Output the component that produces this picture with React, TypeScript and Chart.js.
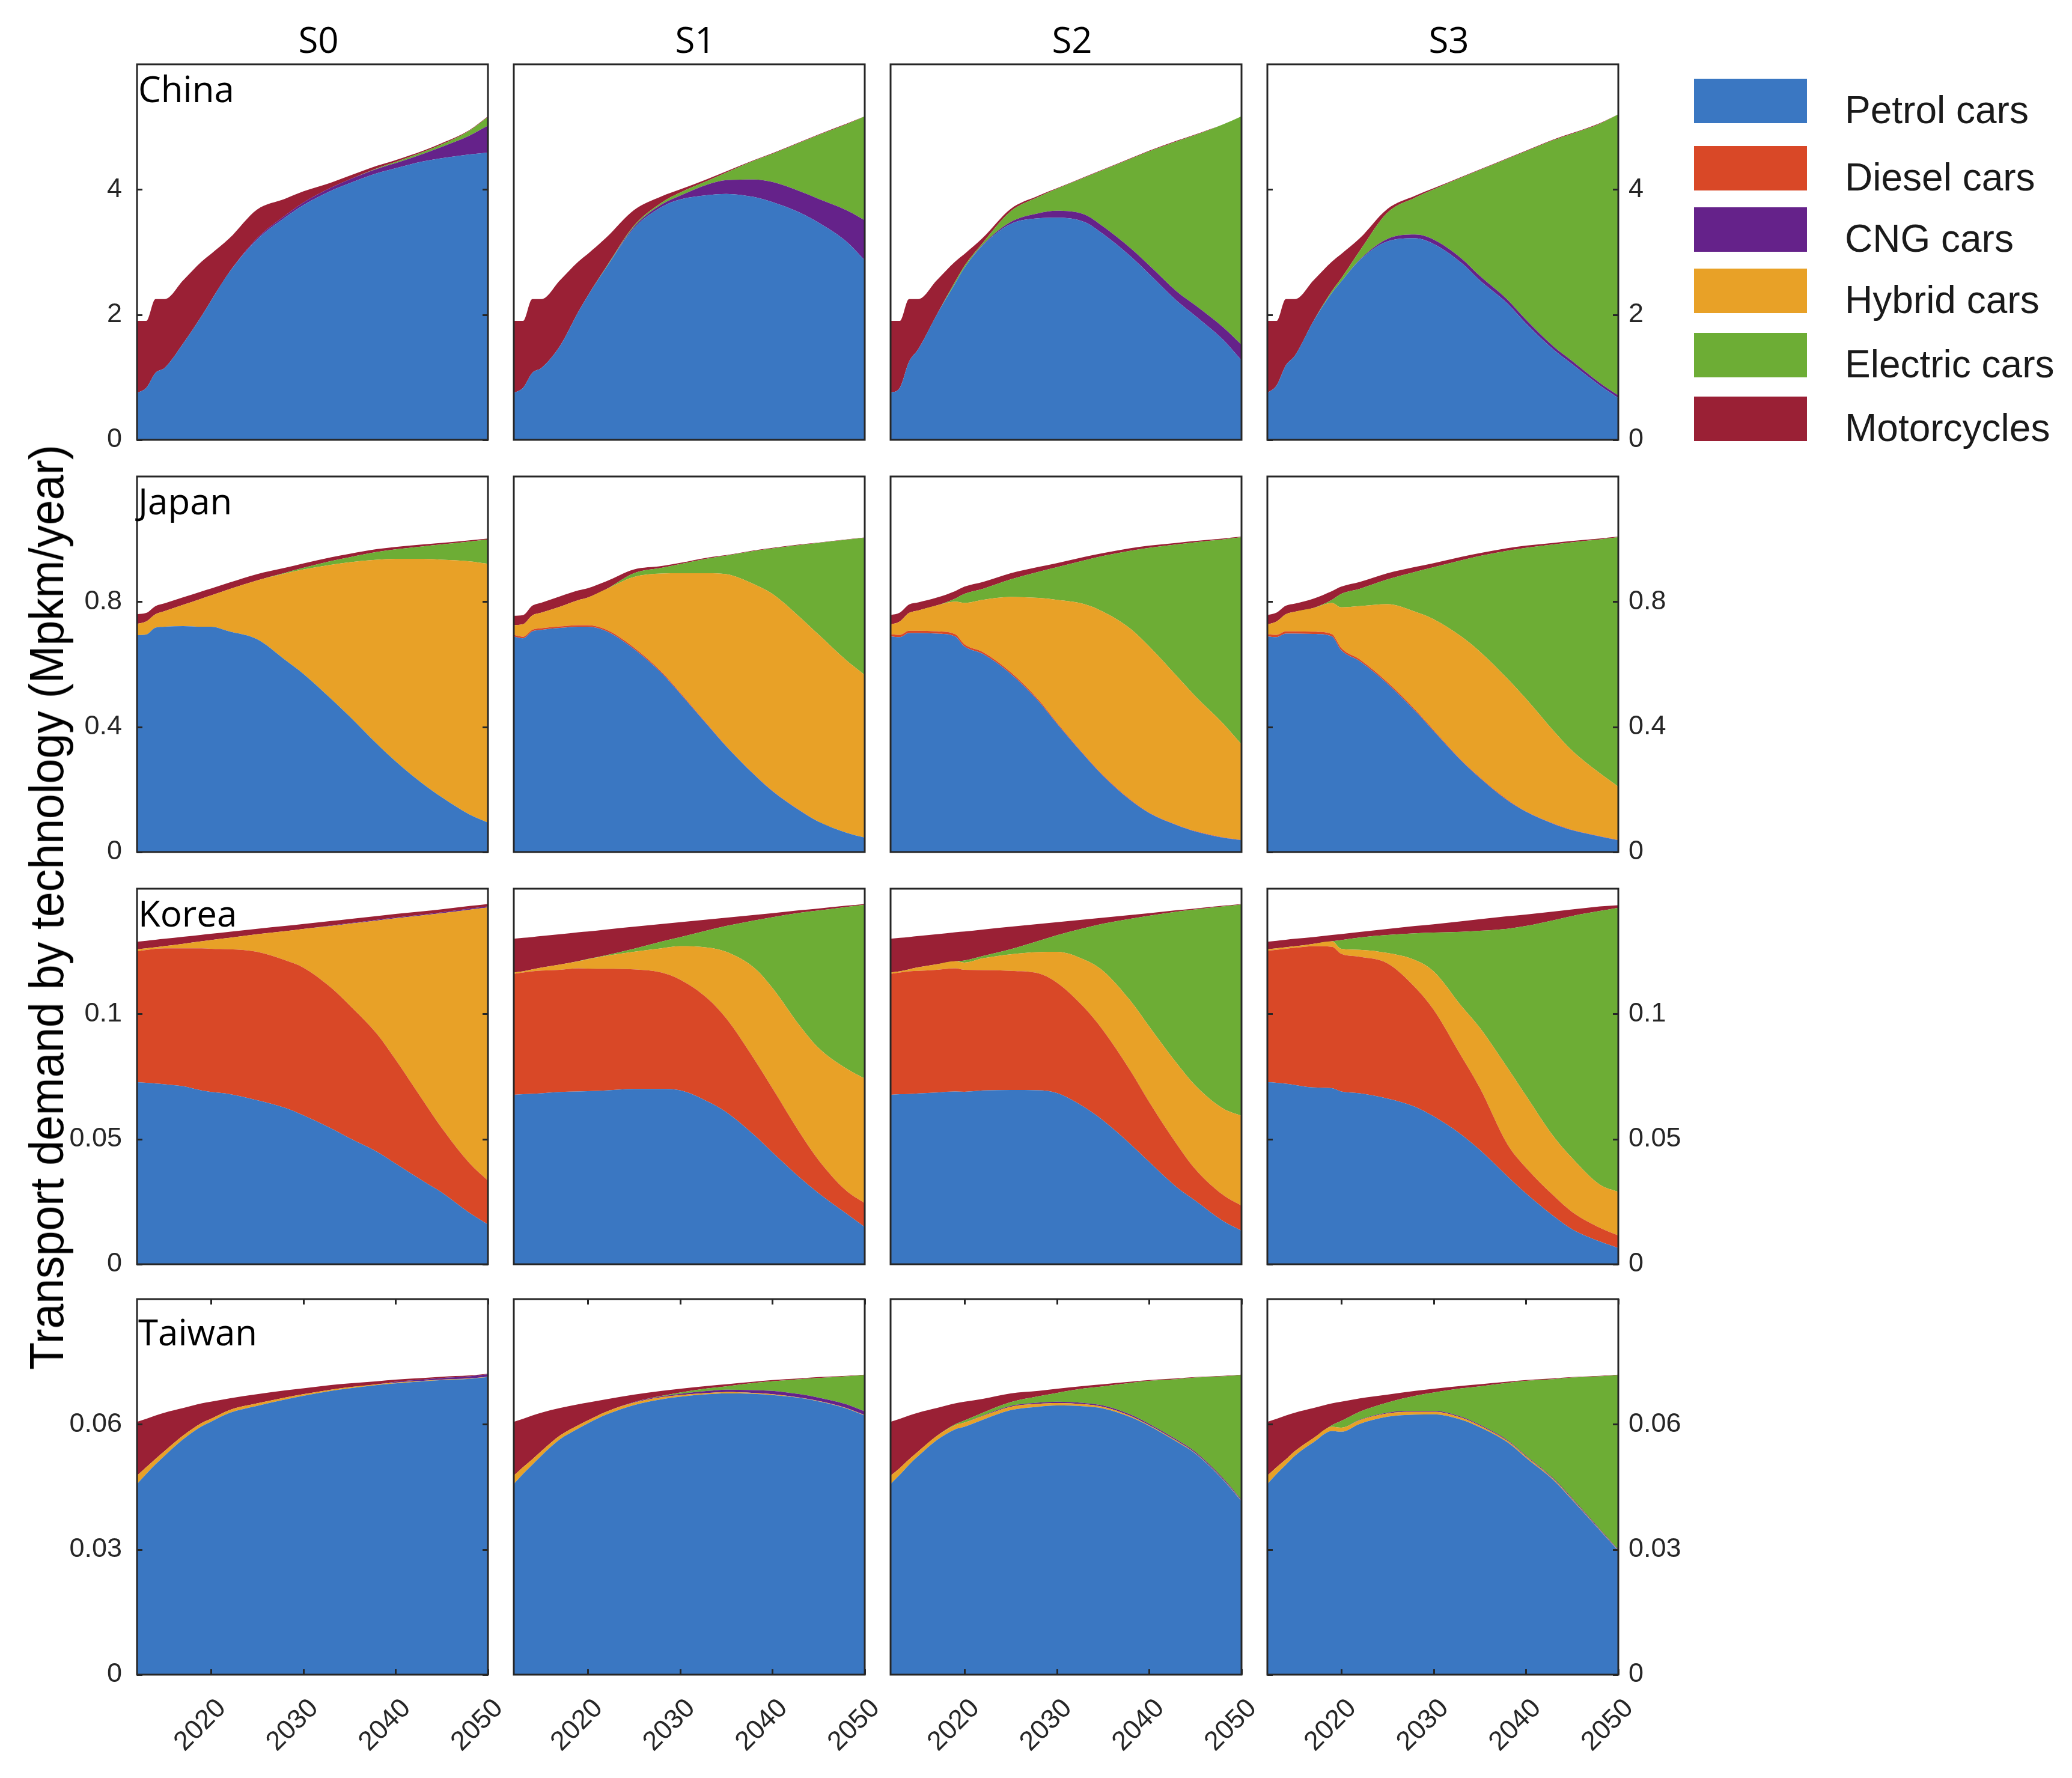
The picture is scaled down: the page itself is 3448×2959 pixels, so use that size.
import React, { useEffect, useRef } from 'react';
import { Chart, registerables } from 'chart.js';

Chart.register(...registerables);

// ---------------- data ----------------
const YEARS = [2012, 2013, 2014, 2015, 2017, 2019, 2020, 2022, 2025, 2028, 2030, 2033, 2035, 2038, 2040, 2043, 2045, 2048, 2050];
const SCENARIOS = ['S0', 'S1', 'S2', 'S3'];
const COUNTRIES = ['China', 'Japan', 'Korea', 'Taiwan'];
const TECH_LABELS = ['Petrol cars', 'Diesel cars', 'CNG cars', 'Hybrid cars', 'Electric cars', 'Motorcycles'];
const TECH_COLORS = ['#3a77c2', '#d94827', '#65228a', '#e8a127', '#6dad35', '#9a2035'];
// bottom-to-top stacking order (indices into TECH_LABELS)
const STACK_ORDER = [0, 1, 3, 2, 4, 5];
const Y_MAX = [6, 1.2, 0.15, 0.09];
const Y_TICKS = [[0, 2, 4], [0, 0.4, 0.8], [0, 0.05, 0.1], [0, 0.03, 0.06]];
const X_TICKS = [2020, 2030, 2040, 2050];
const Y_LABEL = 'Transport demand by technology (Mpkm/year)';

const NONE = [0, 0, 0, 0, 0, 0, 0, 0, 0, 0, 0, 0, 0, 0, 0, 0, 0, 0, 0];

// China (Mpkm/year), one row per scenario S0..S3
const CHINA_PETROL = [
  [0.75, 0.83, 1.07, 1.15, 1.54, 1.98, 2.22, 2.68, 3.2, 3.55, 3.75, 3.98, 4.1, 4.26, 4.34, 4.45, 4.5, 4.56, 4.59],
  [0.75, 0.83, 1.07, 1.15, 1.5, 2.05, 2.3, 2.75, 3.38, 3.72, 3.84, 3.91, 3.93, 3.88, 3.8, 3.63, 3.47, 3.17, 2.87],
  [0.75, 0.83, 1.25, 1.45, 2.0, 2.5, 2.75, 3.11, 3.45, 3.54, 3.55, 3.48, 3.29, 2.93, 2.65, 2.22, 1.98, 1.6, 1.27],
  [0.75, 0.87, 1.19, 1.35, 1.9, 2.35, 2.53, 2.87, 3.17, 3.22, 3.13, 2.83, 2.55, 2.18, 1.86, 1.44, 1.21, 0.87, 0.67],
];
const CHINA_DIESEL = [NONE, NONE, NONE, NONE];
const CHINA_CNG = [
  [0, 0, 0, 0, 0, 0, 0, 0, 0.02, 0.03, 0.04, 0.05, 0.06, 0.07, 0.08, 0.12, 0.18, 0.3, 0.43],
  [0, 0, 0, 0, 0, 0, 0, 0, 0.02, 0.04, 0.06, 0.17, 0.22, 0.28, 0.32, 0.34, 0.38, 0.5, 0.64],
  [0, 0, 0, 0, 0, 0, 0, 0.01, 0.03, 0.08, 0.11, 0.12, 0.12, 0.13, 0.14, 0.15, 0.17, 0.2, 0.25],
  [0, 0, 0, 0, 0, 0, 0, 0.01, 0.04, 0.06, 0.07, 0.07, 0.07, 0.06, 0.06, 0.05, 0.05, 0.04, 0.04],
];
const CHINA_HYBRID = [NONE, NONE, NONE, NONE];
const CHINA_ELECTRIC = [
  [0, 0, 0, 0, 0, 0, 0, 0, 0, 0, 0, 0, 0, 0.01, 0.02, 0.03, 0.04, 0.08, 0.14],
  [0, 0, 0, 0, 0, 0, 0, 0.01, 0.02, 0.03, 0.05, 0.06, 0.12, 0.3, 0.45, 0.78, 1.02, 1.37, 1.66],
  [0, 0, 0, 0, 0, 0.03, 0.03, 0.03, 0.17, 0.26, 0.35, 0.59, 0.9, 1.43, 1.82, 2.4, 2.72, 3.24, 3.65],
  [0, 0, 0, 0, 0, 0.03, 0.05, 0.14, 0.42, 0.59, 0.8, 1.29, 1.69, 2.25, 2.69, 3.3, 3.63, 4.14, 4.49],
];
const CHINA_MOTO = [
  [1.15, 1.07, 1.18, 1.1, 1.01, 0.87, 0.75, 0.54, 0.46, 0.27, 0.18, 0.08, 0.06, 0.04, 0.03, 0.02, 0.02, 0.01, 0.01],
  [1.15, 1.07, 1.18, 1.1, 1.05, 0.8, 0.67, 0.47, 0.25, 0.1, 0.05, 0.03, 0.02, 0.01, 0.01, 0.01, 0.01, 0.01, 0],
  [1.15, 1.07, 1.0, 0.8, 0.55, 0.32, 0.19, 0.08, 0.04, 0.02, 0.01, 0.01, 0.01, 0.01, 0.01, 0.01, 0.01, 0, 0],
  [1.15, 1.03, 1.06, 0.9, 0.65, 0.47, 0.39, 0.2, 0.06, 0.03, 0.02, 0.01, 0.01, 0.01, 0.01, 0.01, 0.01, 0.01, 0],
];

// Japan
const JAPAN_PETROL = [
  [0.693, 0.695, 0.717, 0.72, 0.722, 0.72, 0.72, 0.705, 0.68, 0.615, 0.57, 0.49, 0.434, 0.345, 0.29, 0.217, 0.175, 0.12, 0.094],
  [0.689, 0.683, 0.705, 0.71, 0.716, 0.72, 0.72, 0.706, 0.649, 0.572, 0.507, 0.405, 0.338, 0.248, 0.195, 0.132, 0.097, 0.062, 0.046],
  [0.689, 0.687, 0.7, 0.7, 0.698, 0.689, 0.657, 0.633, 0.57, 0.483, 0.411, 0.308, 0.244, 0.165, 0.125, 0.086, 0.066, 0.046, 0.038],
  [0.689, 0.687, 0.698, 0.698, 0.697, 0.689, 0.645, 0.61, 0.538, 0.451, 0.387, 0.292, 0.237, 0.165, 0.129, 0.09, 0.07, 0.05, 0.038],
];
const JAPAN_DIESEL = [
  NONE,
  [0.005, 0.005, 0.005, 0.005, 0.005, 0.005, 0.005, 0.005, 0.005, 0.004, 0.003, 0.002, 0.001, 0.001, 0.001, 0.001, 0, 0, 0],
  [0.007, 0.007, 0.007, 0.007, 0.007, 0.007, 0.007, 0.006, 0.005, 0.004, 0.003, 0.002, 0.002, 0.002, 0.001, 0.001, 0.001, 0.001, 0.001],
  [0.007, 0.007, 0.007, 0.007, 0.007, 0.007, 0.007, 0.006, 0.005, 0.004, 0.003, 0.002, 0.002, 0.002, 0.001, 0.001, 0.001, 0.001, 0.001],
];
const JAPAN_CNG = [NONE, NONE, NONE, NONE];
const JAPAN_HYBRID = [
  [0.036, 0.042, 0.043, 0.05, 0.068, 0.09, 0.1, 0.135, 0.188, 0.275, 0.333, 0.428, 0.492, 0.589, 0.647, 0.72, 0.759, 0.809, 0.827],
  [0.031, 0.04, 0.046, 0.05, 0.063, 0.08, 0.088, 0.129, 0.225, 0.314, 0.381, 0.484, 0.549, 0.607, 0.629, 0.617, 0.598, 0.551, 0.52],
  [0.031, 0.043, 0.057, 0.065, 0.083, 0.104, 0.132, 0.167, 0.24, 0.325, 0.392, 0.482, 0.522, 0.546, 0.531, 0.475, 0.431, 0.364, 0.305],
  [0.031, 0.043, 0.055, 0.063, 0.076, 0.1, 0.13, 0.17, 0.249, 0.313, 0.354, 0.395, 0.402, 0.387, 0.36, 0.296, 0.253, 0.201, 0.17],
];
const JAPAN_ELECTRIC = [
  [0, 0, 0, 0, 0, 0, 0, 0, 0, 0.002, 0.005, 0.012, 0.016, 0.025, 0.03, 0.04, 0.049, 0.063, 0.078],
  [0, 0, 0, 0, 0, 0, 0, 0, 0.012, 0.018, 0.029, 0.047, 0.059, 0.106, 0.145, 0.231, 0.293, 0.385, 0.438],
  [0, 0, 0, 0, 0, 0.01, 0.029, 0.035, 0.056, 0.083, 0.104, 0.14, 0.178, 0.25, 0.315, 0.421, 0.492, 0.588, 0.662],
  [0, 0, 0, 0, 0, 0.01, 0.043, 0.055, 0.079, 0.127, 0.166, 0.243, 0.305, 0.409, 0.482, 0.596, 0.666, 0.747, 0.797],
];
const JAPAN_MOTO = [
  [0.031, 0.027, 0.026, 0.025, 0.024, 0.023, 0.022, 0.021, 0.02, 0.016, 0.014, 0.012, 0.011, 0.009, 0.008, 0.006, 0.005, 0.004, 0.003],
  [0.03, 0.029, 0.031, 0.032, 0.033, 0.031, 0.03, 0.025, 0.012, 0.006, 0.004, 0.003, 0.002, 0.002, 0.002, 0.002, 0.001, 0.001, 0.001],
  [0.03, 0.028, 0.027, 0.026, 0.025, 0.024, 0.023, 0.022, 0.02, 0.016, 0.013, 0.011, 0.009, 0.008, 0.007, 0.005, 0.004, 0.003, 0.002],
  [0.03, 0.028, 0.027, 0.026, 0.03, 0.028, 0.023, 0.022, 0.02, 0.016, 0.013, 0.011, 0.009, 0.008, 0.007, 0.005, 0.004, 0.003, 0.002],
];

// Korea
const KOREA_PETROL = [
  [0.0727, 0.0725, 0.0722, 0.0719, 0.0711, 0.0694, 0.0688, 0.068, 0.0655, 0.0625, 0.0595, 0.0543, 0.0504, 0.0449, 0.0402, 0.0332, 0.0287, 0.0205, 0.0159],
  [0.0677, 0.0679, 0.0681, 0.0683, 0.0688, 0.069, 0.0691, 0.0694, 0.07, 0.07, 0.0695, 0.065, 0.0608, 0.0517, 0.0447, 0.0345, 0.0284, 0.0203, 0.0149],
  [0.0677, 0.0679, 0.068, 0.0682, 0.0686, 0.069, 0.0689, 0.0694, 0.0696, 0.0695, 0.0684, 0.0627, 0.0575, 0.0479, 0.0409, 0.0307, 0.0254, 0.0173, 0.0134],
  [0.0727, 0.0725, 0.0721, 0.0716, 0.0706, 0.0703, 0.069, 0.0683, 0.0662, 0.0629, 0.0591, 0.0518, 0.0457, 0.0351, 0.0283, 0.0192, 0.014, 0.0091, 0.0065],
];
const KOREA_DIESEL = [
  [0.0523, 0.053, 0.0538, 0.0543, 0.0551, 0.0568, 0.0572, 0.0578, 0.0593, 0.059, 0.059, 0.0562, 0.0531, 0.047, 0.0415, 0.032, 0.0257, 0.0199, 0.0175],
  [0.0483, 0.0486, 0.0489, 0.049, 0.0488, 0.0492, 0.049, 0.0486, 0.0478, 0.0465, 0.0442, 0.0411, 0.0374, 0.0304, 0.0256, 0.0178, 0.0132, 0.0091, 0.0095],
  [0.0483, 0.0486, 0.049, 0.049, 0.049, 0.0492, 0.0487, 0.0481, 0.0476, 0.0467, 0.0441, 0.0397, 0.036, 0.0292, 0.0239, 0.0172, 0.0126, 0.0104, 0.01],
  [0.0525, 0.0531, 0.0539, 0.0548, 0.0564, 0.0565, 0.055, 0.0545, 0.054, 0.0477, 0.0426, 0.0313, 0.0248, 0.0128, 0.0103, 0.0082, 0.0069, 0.0055, 0.005],
];
const KOREA_CNG = [
  [0, 0, 0, 0, 0, 0, 0, 0, 0, 0, 0, 0.0002, 0.0002, 0.0003, 0.0003, 0.0003, 0.0004, 0.0004, 0.0004],
  NONE,
  NONE,
  NONE,
];
const KOREA_HYBRID = [
  [0.0008, 0.0007, 0.0006, 0.0009, 0.0018, 0.0028, 0.0035, 0.0046, 0.007, 0.0115, 0.0154, 0.0246, 0.0325, 0.0454, 0.0565, 0.0742, 0.0858, 0.1012, 0.1091],
  [0.0005, 0.0005, 0.0008, 0.0012, 0.0021, 0.0028, 0.0037, 0.0052, 0.007, 0.0097, 0.0133, 0.0204, 0.0266, 0.0364, 0.0401, 0.0428, 0.0448, 0.0488, 0.0498],
  [0.0005, 0.0005, 0.0008, 0.0014, 0.0022, 0.0028, 0.0029, 0.0047, 0.0066, 0.0085, 0.0123, 0.0192, 0.0237, 0.028, 0.0302, 0.0323, 0.0334, 0.0345, 0.0359],
  [0.0006, 0.0006, 0.0006, 0.0006, 0.001, 0.0022, 0.002, 0.0028, 0.0041, 0.0109, 0.0153, 0.0201, 0.024, 0.0306, 0.0288, 0.0236, 0.0215, 0.0172, 0.0174],
];
const KOREA_ELECTRIC = [
  NONE,
  [0, 0, 0, 0, 0, 0.0001, 0.0001, 0.0002, 0.0012, 0.0027, 0.0036, 0.0069, 0.0103, 0.0188, 0.0282, 0.0453, 0.0549, 0.0645, 0.0694],
  [0, 0, 0, 0, 0, 0, 0.0008, 0.0009, 0.002, 0.0044, 0.0066, 0.0127, 0.0188, 0.0329, 0.0442, 0.0606, 0.0703, 0.0807, 0.0844],
  [0, 0, 0, 0, 0, 0, 0.0035, 0.0049, 0.0072, 0.0107, 0.0155, 0.0296, 0.0387, 0.0555, 0.0677, 0.0864, 0.0967, 0.1093, 0.1135],
];
const KOREA_MOTO = [
  [0.003, 0.003, 0.003, 0.0029, 0.0028, 0.0026, 0.0025, 0.0024, 0.0022, 0.0021, 0.002, 0.0018, 0.0017, 0.0015, 0.0014, 0.0013, 0.0012, 0.0011, 0.001],
  [0.0135, 0.0134, 0.0129, 0.0126, 0.0121, 0.0115, 0.011, 0.0103, 0.0088, 0.007, 0.006, 0.0043, 0.0033, 0.0022, 0.0016, 0.001, 0.0008, 0.0005, 0.0003],
  [0.0135, 0.0134, 0.0129, 0.0125, 0.012, 0.0116, 0.0116, 0.0106, 0.009, 0.0068, 0.0052, 0.0034, 0.0024, 0.0015, 0.001, 0.0006, 0.0004, 0.0003, 0.0002],
  [0.003, 0.003, 0.003, 0.003, 0.0027, 0.0025, 0.0024, 0.0022, 0.0024, 0.0029, 0.0033, 0.0042, 0.0046, 0.005, 0.0046, 0.0035, 0.0026, 0.0018, 0.001],
];

// Taiwan
const TAIWAN_PETROL = [
  [0.0457, 0.0481, 0.0504, 0.0525, 0.0564, 0.0595, 0.0606, 0.0627, 0.0644, 0.0659, 0.0668, 0.068, 0.0686, 0.0694, 0.0698, 0.0703, 0.0706, 0.0709, 0.0713],
  [0.0457, 0.0481, 0.0503, 0.0525, 0.0564, 0.059, 0.0602, 0.0623, 0.0646, 0.066, 0.0666, 0.0672, 0.0674, 0.0673, 0.067, 0.0663, 0.0655, 0.0638, 0.0621],
  [0.0457, 0.0479, 0.0503, 0.0524, 0.0562, 0.0588, 0.0594, 0.0611, 0.0634, 0.0642, 0.0645, 0.0643, 0.0638, 0.0617, 0.0596, 0.0558, 0.053, 0.0467, 0.0416],
  [0.0457, 0.0481, 0.0503, 0.0525, 0.0557, 0.0584, 0.0582, 0.0601, 0.0618, 0.0623, 0.0624, 0.0611, 0.0593, 0.0557, 0.052, 0.0466, 0.0419, 0.0346, 0.0297],
];
const TAIWAN_DIESEL = [NONE, NONE, NONE, NONE];
const TAIWAN_CNG = [
  [0, 0, 0, 0, 0, 0, 0, 0, 0, 0, 0, 0, 0, 0, 0.0002, 0.0003, 0.0004, 0.0005, 0.0006],
  [0, 0, 0, 0, 0, 0, 0, 0, 0.0001, 0.0002, 0.0003, 0.0005, 0.0006, 0.0007, 0.0008, 0.0008, 0.0008, 0.0009, 0.0009],
  [0, 0, 0, 0, 0, 0, 0, 0.0001, 0.0002, 0.0003, 0.0003, 0.0003, 0.0003, 0.0003, 0.0003, 0.0003, 0.0003, 0.0003, 0.0002],
  [0, 0, 0, 0, 0, 0, 0, 0.0001, 0.0002, 0.0002, 0.0002, 0.0002, 0.0002, 0.0002, 0.0002, 0.0002, 0.0002, 0.0002, 0.0002],
];
const TAIWAN_HYBRID = [
  [0.002, 0.0016, 0.0013, 0.0011, 0.0009, 0.0008, 0.0007, 0.0007, 0.0006, 0.0005, 0.0004, 0.0003, 0.0003, 0.0002, 0.0002, 0.0001, 0.0001, 0.0001, 0.0001],
  [0.002, 0.0016, 0.0013, 0.0011, 0.0009, 0.0008, 0.0007, 0.0007, 0.0006, 0.0005, 0.0004, 0.0003, 0.0003, 0.0002, 0.0002, 0.0001, 0.0001, 0.0001, 0.0001],
  [0.002, 0.0016, 0.0013, 0.0011, 0.001, 0.001, 0.001, 0.0009, 0.0008, 0.0007, 0.0006, 0.0005, 0.0004, 0.0003, 0.0002, 0.0002, 0.0001, 0.0001, 0.0001],
  [0.002, 0.0016, 0.0013, 0.0011, 0.001, 0.001, 0.001, 0.0009, 0.0008, 0.0007, 0.0006, 0.0005, 0.0004, 0.0003, 0.0003, 0.0002, 0.0002, 0.0001, 0.0001],
];
const TAIWAN_ELECTRIC = [
  NONE,
  [0, 0, 0, 0, 0, 0, 0, 0, 0, 0.0001, 0.0003, 0.0006, 0.0008, 0.0017, 0.0023, 0.0036, 0.0047, 0.0067, 0.0087],
  [0, 0, 0, 0, 0, 0.0002, 0.0005, 0.0007, 0.0009, 0.0015, 0.0021, 0.0035, 0.0046, 0.0076, 0.0103, 0.0145, 0.0178, 0.0244, 0.0299],
  [0, 0, 0, 0, 0, 0.0004, 0.0016, 0.0019, 0.0024, 0.0036, 0.0044, 0.0068, 0.0092, 0.0137, 0.0179, 0.0238, 0.0289, 0.0366, 0.0418],
];
const TAIWAN_MOTO = [
  [0.0129, 0.0116, 0.0104, 0.0092, 0.0066, 0.0047, 0.0041, 0.0028, 0.0022, 0.0017, 0.0014, 0.0011, 0.0009, 0.0007, 0.0005, 0.0004, 0.0003, 0.0002, 0.0001],
  [0.0129, 0.0116, 0.0105, 0.0092, 0.0066, 0.005, 0.0043, 0.003, 0.0018, 0.0012, 0.0009, 0.0006, 0.0005, 0.0003, 0.0003, 0.0002, 0.0002, 0.0001, 0.0001],
  [0.0129, 0.0118, 0.0105, 0.0093, 0.0067, 0.005, 0.0045, 0.0033, 0.0021, 0.0013, 0.001, 0.0006, 0.0005, 0.0003, 0.0002, 0.0002, 0.0001, 0.0001, 0.0001],
  [0.0129, 0.0116, 0.0105, 0.0092, 0.0072, 0.0052, 0.0046, 0.0032, 0.0019, 0.0012, 0.0009, 0.0006, 0.0005, 0.0003, 0.0002, 0.0002, 0.0001, 0.0001, 0.0001],
];

// technology series per country, in TECH_LABELS order
const SERIES = [
  [CHINA_PETROL, CHINA_DIESEL, CHINA_CNG, CHINA_HYBRID, CHINA_ELECTRIC, CHINA_MOTO],
  [JAPAN_PETROL, JAPAN_DIESEL, JAPAN_CNG, JAPAN_HYBRID, JAPAN_ELECTRIC, JAPAN_MOTO],
  [KOREA_PETROL, KOREA_DIESEL, KOREA_CNG, KOREA_HYBRID, KOREA_ELECTRIC, KOREA_MOTO],
  [TAIWAN_PETROL, TAIWAN_DIESEL, TAIWAN_CNG, TAIWAN_HYBRID, TAIWAN_ELECTRIC, TAIWAN_MOTO],
];

// ---------------- layout ----------------
const COL_LEFT = [228, 855, 1482, 2109];
const ROW_TOP = [107, 793, 1479, 2162];
const PANEL_W = 584;
const PANEL_H = 625;
const AXIS_COLOR = '#262626';
const TICK_FONT = { family: "'Liberation Sans', Arial, sans-serif", size: 45 };
const TITLE_FONT = "'Open Sans', 'Noto Sans', sans-serif";
const LEGEND_TOPS = [131, 243, 345, 447, 554, 660];

function Panel({ r, c }: { r: number; c: number }) {
  const ref = useRef<HTMLCanvasElement>(null);
  const isLeft = c === 0;
  const isRight = c === 3;
  const isBottom = r === 3;
  const padT = 12;
  const padB = isBottom ? 230 : 12;
  const padL = isLeft ? 180 : 30;
  const padR = isRight ? 180 : 50;
  const W = PANEL_W + padL + padR;
  const H = PANEL_H + padT + padB;

  useEffect(() => {
    const canvas = ref.current;
    if (!canvas) return;
    const frame = {
      id: 'frame' + r + c,
      afterDraw(chart: any) {
        const { ctx, chartArea: a, scales } = chart;
        ctx.save();
        ctx.strokeStyle = AXIS_COLOR;
        ctx.lineWidth = 3;
        ctx.lineCap = 'butt';
        if (isLeft || isRight) {
          for (const v of Y_TICKS[r]) {
            const y = Math.round(scales.y.getPixelForValue(v)) + 0.5;
            ctx.beginPath();
            ctx.moveTo(a.left, y);
            ctx.lineTo(a.left + 9, y);
            ctx.moveTo(a.right, y);
            ctx.lineTo(a.right - 9, y);
            ctx.stroke();
          }
        }
        if (isBottom) {
          for (const v of X_TICKS) {
            const x = Math.round(scales.x.getPixelForValue(v)) + 0.5;
            ctx.beginPath();
            ctx.moveTo(x, a.bottom);
            ctx.lineTo(x, a.bottom - 9);
            ctx.moveTo(x, a.top);
            ctx.lineTo(x, a.top + 9);
            ctx.stroke();
          }
        }
        ctx.strokeRect(a.left, a.top, a.right - a.left, a.bottom - a.top);
        ctx.restore();
      },
    };

    const zeroPad = (s: any) => {
      s.paddingLeft = 0;
      s.paddingRight = 0;
      s.paddingTop = 0;
      s.paddingBottom = 0;
    };

    const chart = new Chart(canvas, {
      type: 'line',
      data: {
        datasets: STACK_ORDER.map((t, k) => ({
          label: TECH_LABELS[t],
          data: YEARS.map((x, i) => ({ x, y: SERIES[r][t][c][i] })),
          backgroundColor: TECH_COLORS[t],
          borderColor: 'rgba(0,0,0,0)',
          borderWidth: 0,
          pointRadius: 0,
          pointHoverRadius: 0,
          fill: k === 0 ? 'origin' : '-1',
          cubicInterpolationMode: 'monotone',
        })),
      },
      options: {
        animation: false,
        responsive: false,
        maintainAspectRatio: false,
        devicePixelRatio: 1,
        events: [],
        layout: {
          padding: {
            top: padT,
            bottom: 0,
            left: isRight ? padL : 0,
            right: isRight ? 0 : padR,
          },
        },
        plugins: {
          legend: { display: false },
          tooltip: { enabled: false },
          title: { display: false },
        },
        scales: {
          x: {
            type: 'linear',
            min: 2012,
            max: 2050,
            afterBuildTicks: (s: any) => {
              s.ticks = X_TICKS.map((v) => ({ value: v }));
            },
            ticks: {
              display: isBottom,
              autoSkip: false,
              minRotation: 45,
              maxRotation: 45,
              padding: 30,
              labelOffset: 18,
              color: AXIS_COLOR,
              font: TICK_FONT,
              callback: (v: any) => String(v),
            },
            grid: { display: false, drawTicks: false },
            border: { display: false },
            afterFit: (s: any) => {
              s.height = padB;
              zeroPad(s);
            },
          },
          y: {
            type: 'linear',
            stacked: true,
            min: 0,
            max: Y_MAX[r],
            position: isRight ? 'right' : 'left',
            afterBuildTicks: (s: any) => {
              s.ticks = Y_TICKS[r].map((v) => ({ value: v }));
            },
            ticks: {
              display: isLeft || isRight,
              padding: isLeft ? 25 : 17,
              color: AXIS_COLOR,
              font: TICK_FONT,
              callback: (v: any) => String(v),
            },
            grid: { display: false, drawTicks: false },
            border: { display: false },
            afterFit: (s: any) => {
              s.width = isRight ? padR : padL;
              zeroPad(s);
            },
          },
        },
      },
      plugins: [frame],
    } as any);
    return () => chart.destroy();
  }, []);

  return (
    <canvas
      ref={ref}
      width={W}
      height={H}
      style={{
        position: 'absolute',
        left: COL_LEFT[c] - padL,
        top: ROW_TOP[r] - padT,
        width: W,
        height: H,
      }}
    />
  );
}

export default function App() {
  const panels = [];
  for (let r = 0; r < 4; r++) {
    for (let c = 0; c < 4; c++) {
      panels.push(<Panel key={r + '-' + c} r={r} c={c} />);
    }
  }
  return (
    <div
      style={{
        position: 'absolute',
        left: 0,
        top: 0,
        width: 3448,
        height: 2959,
        background: '#ffffff',
        overflow: 'hidden',
      }}
    >
      {panels}
      {SCENARIOS.map((s, c) => (
        <div
          key={s}
          style={{
            position: 'absolute',
            left: COL_LEFT[c] + PANEL_W / 2 + 10,
            top: 35,
            transform: 'translateX(-50%)',
            font: `60px ${TITLE_FONT}`,
            lineHeight: 1,
            color: '#000',
            whiteSpace: 'nowrap',
          }}
        >
          {s}
        </div>
      ))}
      {COUNTRIES.map((name, r) => (
        <div
          key={name}
          style={{
            position: 'absolute',
            left: COL_LEFT[0] + 2,
            top: ROW_TOP[r] + (r === 3 ? 24 : 10),
            font: `60px ${TITLE_FONT}`,
            lineHeight: 1,
            color: '#000',
            whiteSpace: 'nowrap',
          }}
        >
          {name}
        </div>
      ))}
      <div
        style={{
          position: 'absolute',
          left: 78,
          top: 1510,
          transform: 'translate(-50%, -50%) rotate(-90deg) scaleX(0.94)',
          font: "80px 'Liberation Sans', Arial, sans-serif",
          lineHeight: 1,
          color: '#000',
          whiteSpace: 'nowrap',
        }}
      >
        {Y_LABEL}
      </div>
      {TECH_LABELS.map((label, i) => (
        <React.Fragment key={label}>
          <div
            style={{
              position: 'absolute',
              left: 2819,
              top: LEGEND_TOPS[i],
              width: 188,
              height: 74,
              background: TECH_COLORS[i],
            }}
          />
          <div
            style={{
              position: 'absolute',
              left: 3070,
              top: LEGEND_TOPS[i] + 74 - 54,
              font: "64px 'Liberation Sans', Arial, sans-serif",
              lineHeight: 1,
              color: '#1a1a1a',
              whiteSpace: 'nowrap',
            }}
          >
            {label}
          </div>
        </React.Fragment>
      ))}
    </div>
  );
}
